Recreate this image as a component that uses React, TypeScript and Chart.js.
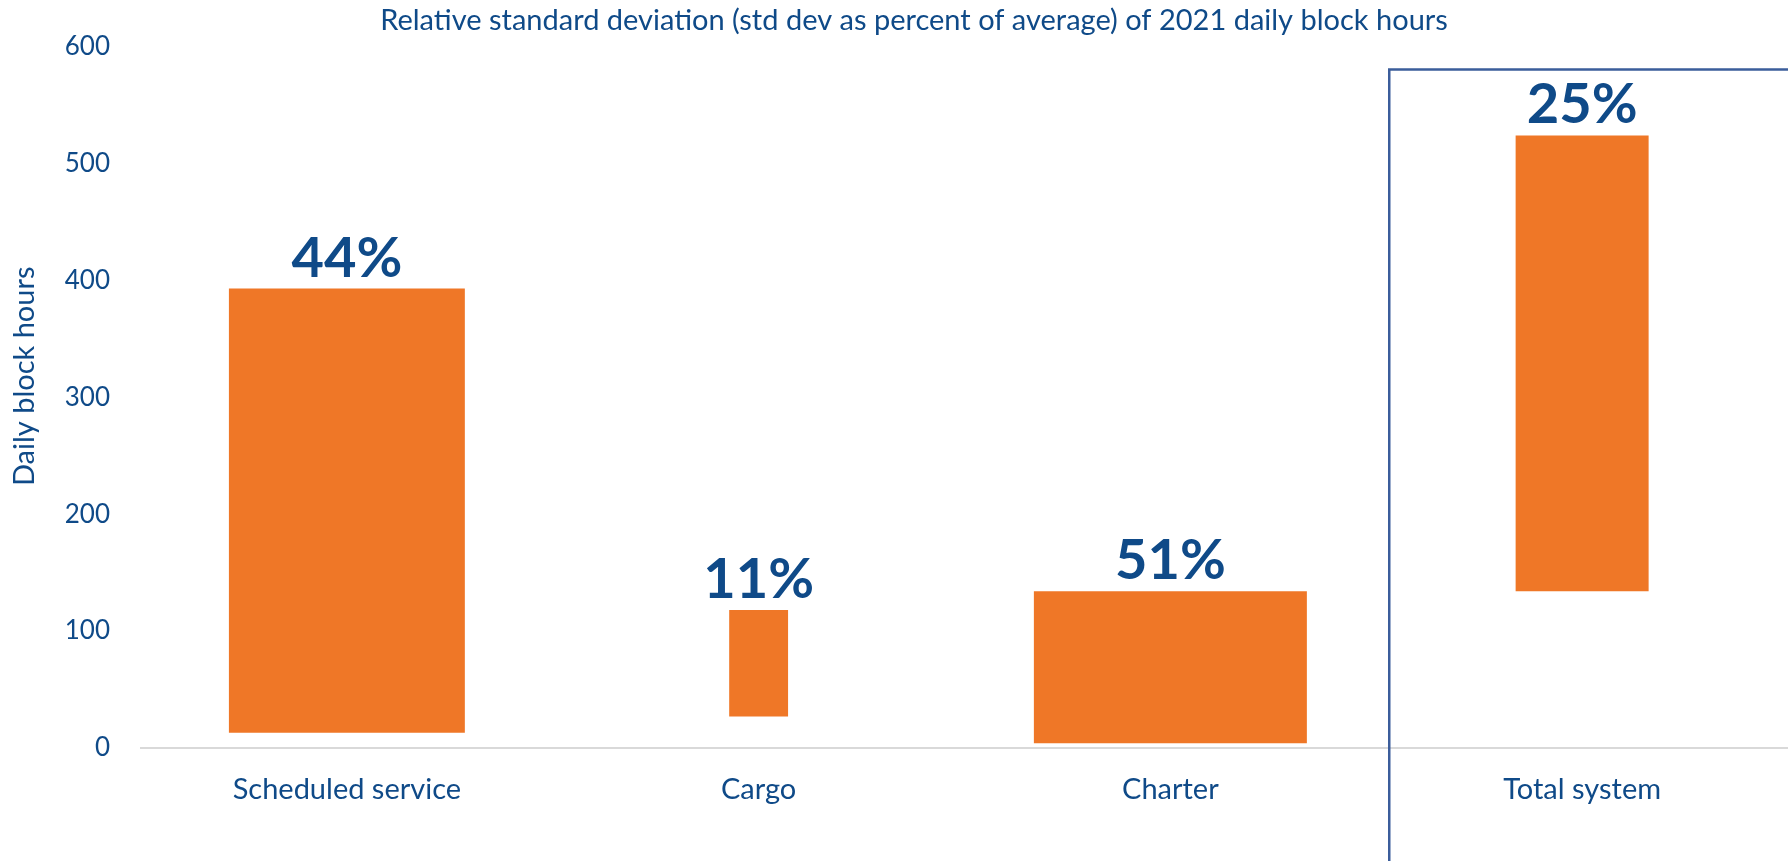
import React, { useEffect, useRef } from "react";
import { Chart, registerables } from "chart.js";

Chart.register(...registerables);

const categories = ["Scheduled service", "Cargo", "Charter", "Total system"];
const rangeLow = [13, 27, 4, 134];
const rangeHigh = [393, 118, 134, 524];
const pctLabels = ["44%", "11%", "51%", "25%"];
const yTicks = [0, 100, 200, 300, 400, 500, 600];
const titleText =
  "Relative standard deviation (std dev as percent of average) of 2021 daily block hours";
const yTitle = "Daily block hours";

const BLUE = "#0f4a88";
const ORANGE = "#ef7727";
const FONT = "Lato, 'Open Sans', sans-serif";
const barPct = [0.573, 0.143, 0.663, 0.323];

export default function App() {
  const ref = useRef<HTMLCanvasElement | null>(null);

  useEffect(() => {
    if (!ref.current) return;
    const datasets = categories.map((_, i) => ({
      label: categories[i],
      data: categories.map((__, j) => (j === i ? [rangeLow[j], rangeHigh[j]] : null)),
      backgroundColor: ORANGE,
      borderWidth: 0,
      grouped: false,
      barPercentage: barPct[i],
      categoryPercentage: 1,
    }));

    const overlay = {
      id: "overlay",
      afterDatasetsDraw(chart: any) {
        const ctx = chart.ctx;
        const xs = chart.scales.x;
        const area = chart.chartArea;
        ctx.save();
        // title
        ctx.fillStyle = BLUE;
        ctx.font = `29px ${FONT}`;
        ctx.textAlign = "center";
        ctx.textBaseline = "middle";
        ctx.fillText(titleText, chart.width / 2 + 20, 21);
        // y axis title
        ctx.save();
        ctx.translate(25, (area.top + area.bottom) / 2 - 21);
        ctx.rotate(-Math.PI / 2);
        ctx.fillText(yTitle, 0, 0);
        ctx.restore();
        // percentage labels
        ctx.font = `bold 56px ${FONT}`;
        ctx.textBaseline = "alphabetic";
        chart.data.datasets.forEach((ds: any, i: number) => {
          const meta = chart.getDatasetMeta(i);
          const el = meta.data[i];
          if (!el) return;
          ctx.fillText(pctLabels[i], el.x, el.y - 12);
        });
        // highlight box around Total system
        const bx = (xs.getPixelForValue(2) + xs.getPixelForValue(3)) / 2 + 13;
        const by = area.top + 23;
        ctx.strokeStyle = "#3b5d9b";
        ctx.lineWidth = 2.5;
        ctx.beginPath();
        ctx.moveTo(bx, chart.height + 5);
        ctx.lineTo(bx, by);
        ctx.lineTo(chart.width + 5, by);
        ctx.stroke();
        ctx.restore();
      },
    };

    const chart = new Chart(ref.current, {
      type: "bar",
      data: { labels: categories, datasets: datasets as any },
      options: {
        animation: false,
        responsive: false,
        maintainAspectRatio: false,
        layout: { padding: { top: 46, right: 0, left: 0, bottom: 0 } },
        plugins: { legend: { display: false }, tooltip: { enabled: false }, title: { display: false } },
        scales: {
          x: {
            grid: { display: false, drawTicks: false },
            border: { display: true, color: "#d9d9d9", width: 2 },
            ticks: { color: BLUE, font: { family: FONT, size: 29 }, padding: 24, maxRotation: 0 },
            afterFit: (s: any) => {
              s.height = 113;
            },
          },
          y: {
            min: 0,
            max: 600,
            grid: { display: false, drawTicks: false },
            border: { display: false },
            afterBuildTicks: (s: any) => {
              s.ticks = yTicks.map((v) => ({ value: v }));
            },
            ticks: { color: BLUE, font: { family: FONT, size: 26 }, padding: 31 },
            title: { display: false },
            afterFit: (s: any) => {
              s.width = 141;
            },
          },
        },
      },
      plugins: [overlay],
    });
    return () => chart.destroy();
  }, []);

  return (
    <div style={{ position: "fixed", left: 0, top: 0, width: 1788, height: 861, background: "#fff" }}>
      <canvas ref={ref} width={1788} height={861} style={{ display: "block" }} />
    </div>
  );
}
